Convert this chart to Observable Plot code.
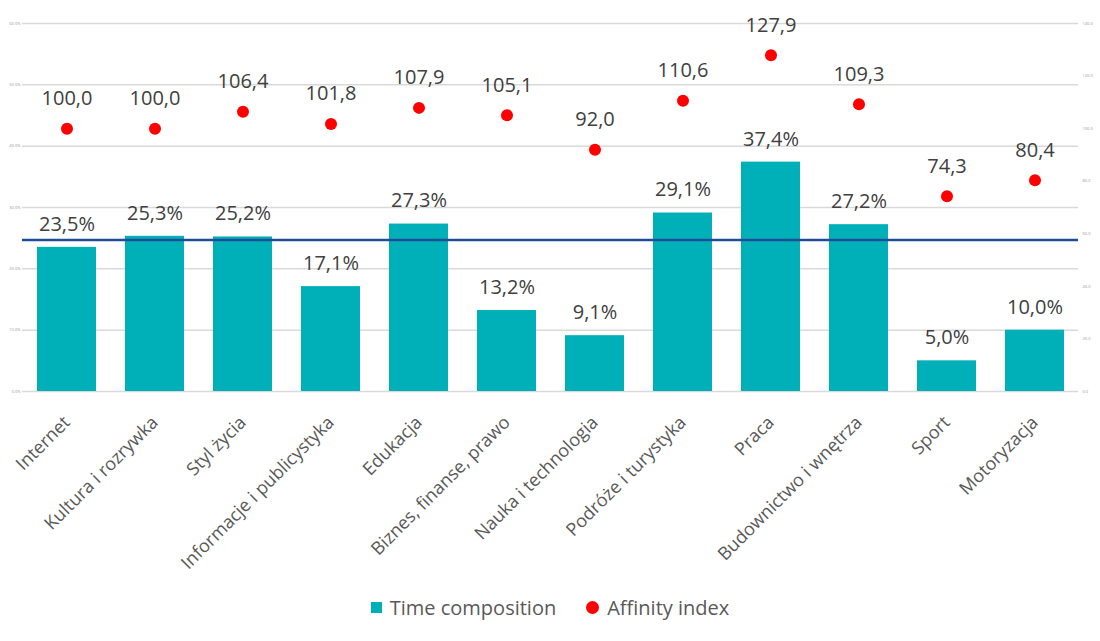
<!DOCTYPE html>
<html>
<head>
<meta charset="utf-8">
<script src="https://cdn.jsdelivr.net/npm/d3@7"></script>
<script src="https://cdn.jsdelivr.net/npm/@observablehq/plot@0.6"></script>
<style>
  html, body { margin: 0; padding: 0; background: #fff; }
  body { width: 1100px; height: 641px; overflow: hidden; font-family: "Open Sans", "Noto Sans", sans-serif; }
  #legend { display: flex; justify-content: center; align-items: center; gap: 30px; font-size: 20px; color: #595959; height: 34px; margin-top: 0px; }
  .item { display: flex; align-items: center; gap: 8px; }
  .sq { width: 11px; height: 11px; background: #00B0B9; }
  .ci { width: 13px; height: 13px; border-radius: 50%; background: #FF0000; }
</style>
</head>
<body>
<div id="chart"></div>
<div id="legend">
  <div class="item"><div class="sq"></div><span>Time composition</span></div>
  <div class="item"><div class="ci"></div><span>Affinity index</span></div>
</div>
<script>
const categories = ["Internet", "Kultura i rozrywka", "Styl życia", "Informacje i publicystyka", "Edukacja", "Biznes, finanse, prawo", "Nauka i technologia", "Podróże i turystyka", "Praca", "Budownictwo i wnętrza", "Sport", "Motoryzacja"];
const timeComposition = [23.5, 25.3, 25.2, 17.1, 27.3, 13.2, 9.1, 29.1, 37.4, 27.2, 5.0, 10.0];
const affinityIndex = [100.0, 100.0, 106.4, 101.8, 107.9, 105.1, 92.0, 110.6, 127.9, 109.3, 74.3, 80.4];
const referenceLine = 24.7;           // horizontal reference line (left axis, %)
const leftTicks = [0, 10, 20, 30, 40, 50, 60];
const rightTicks = [0, 20, 40, 60, 80, 100, 120, 140];

const leftMax = 60, rightMax = 140;
const toLeft = v => v * leftMax / rightMax;

const data = categories.map((c, i) => ({cat: c, time: timeComposition[i], aff: affinityIndex[i]}));
const fmt1 = v => v.toFixed(1).replace(".", ",");

const chart = Plot.plot({
  width: 1100,
  height: 590,
  marginLeft: 22,
  marginRight: 22,
  marginTop: 23,
  marginBottom: 199,
  style: {fontFamily: "'Open Sans', 'Noto Sans', sans-serif", background: "#fff"},
  x: {domain: categories, paddingInner: 0.33, paddingOuter: 0.165, label: null},
  y: {domain: [0, leftMax], label: null},
  marks: [
    Plot.gridY(leftTicks, {stroke: "#D9D9D9", strokeOpacity: 1, strokeWidth: 1.5}),
    Plot.axisY(leftTicks, {anchor: "left", tickSize: 0, tickPadding: 2, fontSize: 4, fill: "#999", tickFormat: d => d.toFixed(1) + "%", label: null}),
    Plot.axisY(rightTicks.map(toLeft), {anchor: "right", tickSize: 0, tickPadding: 4, fontSize: 4, fill: "#999", tickFormat: d => (d * rightMax / leftMax).toFixed(1), label: null}),
    Plot.barY(data, {x: "cat", y: "time", fill: "#00B0B9"}),
    Plot.ruleY([referenceLine], {stroke: "#1F4E96", strokeWidth: 2.5}),
    Plot.text(data, {x: "cat", y: "time", text: d => fmt1(d.time) + "%", dy: -23, fontSize: 20, fill: "#404040"}),
    Plot.dot(data, {x: "cat", y: d => toLeft(d.aff), r: 6, fill: "#FF0000"}),
    Plot.text(data, {x: "cat", y: d => toLeft(d.aff), text: d => fmt1(d.aff), dy: -30, fontSize: 20, fill: "#404040"}),
    Plot.axisX({tickSize: 0, tickRotate: -45, fontSize: 18, fill: "#595959", tickPadding: 28, dx: 0, label: null})
  ]
});
document.getElementById("chart").appendChild(chart);
</script>
</body>
</html>
